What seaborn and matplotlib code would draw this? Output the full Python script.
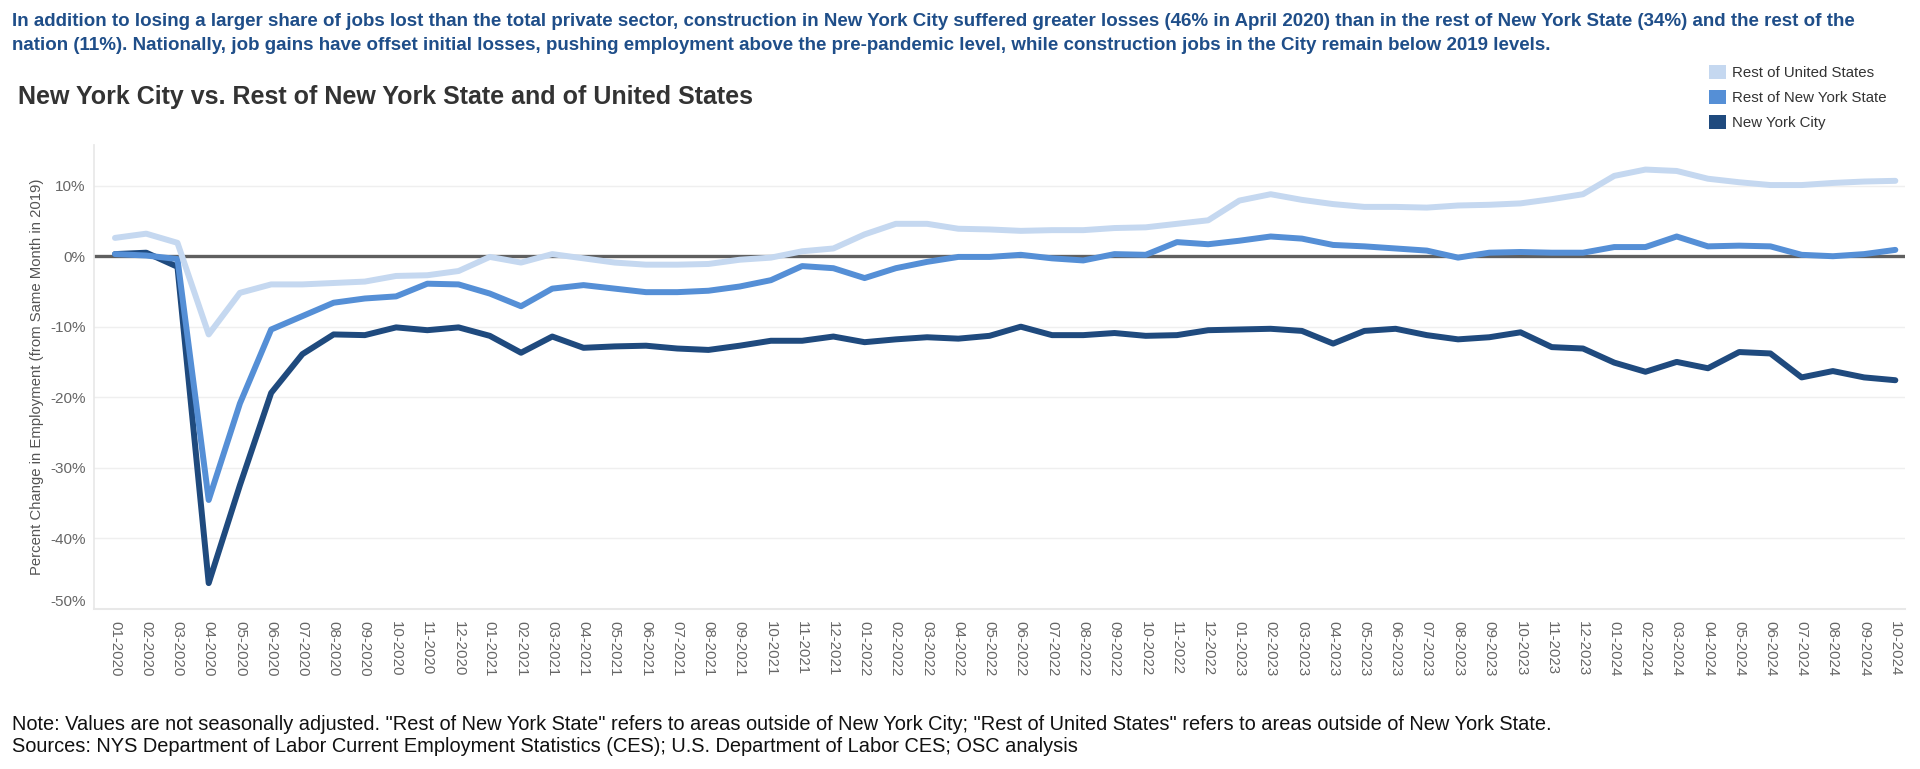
import matplotlib
matplotlib.use("Agg")
import matplotlib.pyplot as plt
from matplotlib.patches import Patch
import seaborn as sns
import pandas as pd

months = ["01-2020", "02-2020", "03-2020", "04-2020", "05-2020", "06-2020", "07-2020", "08-2020", "09-2020", "10-2020", "11-2020", "12-2020",
          "01-2021", "02-2021", "03-2021", "04-2021", "05-2021", "06-2021", "07-2021", "08-2021", "09-2021", "10-2021", "11-2021", "12-2021",
          "01-2022", "02-2022", "03-2022", "04-2022", "05-2022", "06-2022", "07-2022", "08-2022", "09-2022", "10-2022", "11-2022", "12-2022",
          "01-2023", "02-2023", "03-2023", "04-2023", "05-2023", "06-2023", "07-2023", "08-2023", "09-2023", "10-2023", "11-2023", "12-2023",
          "01-2024", "02-2024", "03-2024", "04-2024", "05-2024", "06-2024", "07-2024", "08-2024", "09-2024", "10-2024"]

rest_us = [2.6, 3.2, 1.9, -11.1, -5.2, -4.0, -4.0, -3.8, -3.6, -2.8, -2.7, -2.1,
           -0.1, -0.9, 0.3, -0.3, -0.9, -1.2, -1.2, -1.1, -0.5, -0.2, 0.7, 1.1,
           3.1, 4.6, 4.6, 3.9, 3.8, 3.6, 3.7, 3.7, 4.0, 4.1, 4.6, 5.1,
           7.9, 8.8, 8.0, 7.4, 7.0, 7.0, 6.9, 7.2, 7.3, 7.5, 8.1, 8.8,
           11.4, 12.3, 12.1, 11.0, 10.5, 10.1, 10.1, 10.4, 10.6, 10.7]

rest_nys = [0.3, 0.1, -0.4, -34.6, -20.9, -10.4, -8.5, -6.6, -6.0, -5.7, -3.9, -4.0,
            -5.3, -7.1, -4.6, -4.1, -4.6, -5.1, -5.1, -4.9, -4.3, -3.4, -1.4, -1.7,
            -3.1, -1.7, -0.8, -0.1, -0.1, 0.2, -0.3, -0.6, 0.3, 0.2, 2.0, 1.7,
            2.2, 2.8, 2.5, 1.6, 1.4, 1.1, 0.8, -0.2, 0.5, 0.6, 0.5, 0.5,
            1.3, 1.3, 2.8, 1.4, 1.5, 1.4, 0.2, 0.0, 0.3, 0.9]

nyc = [0.3, 0.5, -1.5, -46.4, -32.5, -19.4, -13.9, -11.1, -11.2, -10.1, -10.5, -10.1,
       -11.3, -13.7, -11.4, -13.0, -12.8, -12.7, -13.1, -13.3, -12.7, -12.0, -12.0, -11.4,
       -12.2, -11.8, -11.5, -11.7, -11.3, -10.0, -11.2, -11.2, -10.9, -11.3, -11.2, -10.5,
       -10.4, -10.3, -10.6, -12.4, -10.6, -10.3, -11.2, -11.8, -11.5, -10.8, -12.9, -13.1,
       -15.1, -16.4, -15.0, -15.9, -13.6, -13.8, -17.2, -16.3, -17.2, -17.6]

series_names = ["Rest of United States", "Rest of New York State", "New York City"]
colors = {"Rest of United States": "#C5D8F0",
          "Rest of New York State": "#558FD6",
          "New York City": "#1F4A7E"}
yticks = [10, 0, -10, -20, -30, -40, -50]

subtitle = ("In addition to losing a larger share of jobs lost than the total private sector, construction in New York City suffered greater losses (46% in April 2020) than in the rest of New York State (34%) and the rest of the\n"
            "nation (11%). Nationally, job gains have offset initial losses, pushing employment above the pre-pandemic level, while construction jobs in the City remain below 2019 levels.")
title = "New York City vs. Rest of New York State and of United States"
note = ("Note: Values are not seasonally adjusted. \"Rest of New York State\" refers to areas outside of New York City; \"Rest of United States\" refers to areas outside of New York State.\n"
        "Sources: NYS Department of Labor Current Employment Statistics (CES); U.S. Department of Labor CES; OSC analysis")
ylabel = "Percent Change in Employment (from Same Month in 2019)"

sns.set_theme(style="white")
plt.rcParams["font.family"] = ["Liberation Sans", "DejaVu Sans"]

rows = []
for name, vals in zip(series_names, [rest_us, rest_nys, nyc]):
    for i, v in enumerate(vals):
        rows.append({"idx": i, "month": months[i], "value": v, "series": name})
df = pd.DataFrame(rows)

W, H = 1920, 769
fig = plt.figure(figsize=(W / 100, H / 100), dpi=100)
ax_w = 1904.7 - 93.75
ax = fig.add_axes([93.75 / W, 1 - 608.5 / H, ax_w / W, (608.5 - 144.9) / H])

ax.axhline(0, color="#5f5f5f", lw=2.4, zorder=1.5)
sns.lineplot(data=df, x="idx", y="value", hue="series",
             hue_order=["New York City", "Rest of New York State", "Rest of United States"],
             palette=colors, linewidth=4.3, legend=False, ax=ax, zorder=3)

ax.set_xlim(-0.68, 57.3)
ax.set_ylim(-50.0, 15.8)
ax.set_yticks(yticks)
ax.set_yticklabels([f"{v}%" for v in yticks], color="#666666", fontsize=11)
for lbl in ax.get_yticklabels():
    if lbl.get_text() == "-50%":
        lbl.set_va("bottom")
ax.set_xticks(range(len(months)))
ax.set_xticklabels(months, rotation=270, color="#666666", fontsize=10.8, va="top", ha="center")
ax.tick_params(axis="y", length=0, pad=6)
ax.tick_params(axis="x", length=5, color="#e3e3e3", width=1, pad=4, direction="out")
ax.yaxis.grid(True, color="#efefef", lw=1)
ax.xaxis.grid(False)
for s in ["top", "right"]:
    ax.spines[s].set_visible(False)
ax.spines["left"].set_color("#e8e8e8")
ax.spines["bottom"].set_color("#e8e8e8")
ax.spines["bottom"].set_linewidth(1.5)
ax.set_xlabel("")
ax.set_ylabel(ylabel, fontsize=10.7, color="#555555")
ax.yaxis.set_label_coords(-(93.75 - 44.5) / ax_w, 0.5)

fig.text(12 / W, 1 - 33.5 / H, subtitle, color="#1F4E89", fontsize=13.48, fontweight="bold",
         va="center", ha="left", linespacing=1.47)
fig.text(18 / W, 1 - 97 / H, title, color="#333333", fontsize=18, fontweight="bold",
         va="center", ha="left")
fig.text(12 / W, 1 - 735 / H, note, color="#111111", fontsize=14.43,
         va="center", ha="left", linespacing=1.2)

handles = [Patch(facecolor=colors[n], edgecolor="none", label=n) for n in series_names]
leg = fig.legend(handles=handles, loc="upper left", bbox_to_anchor=(1709 / W, 1 - 64.5 / H),
                 frameon=False, fontsize=10.8, handlelength=1.1, handleheight=1.1,
                 handletextpad=0.45, labelspacing=0.66, borderaxespad=0, borderpad=0)
for t in leg.get_texts():
    t.set_color("#333333")

fig.savefig("out.png", dpi=100)
